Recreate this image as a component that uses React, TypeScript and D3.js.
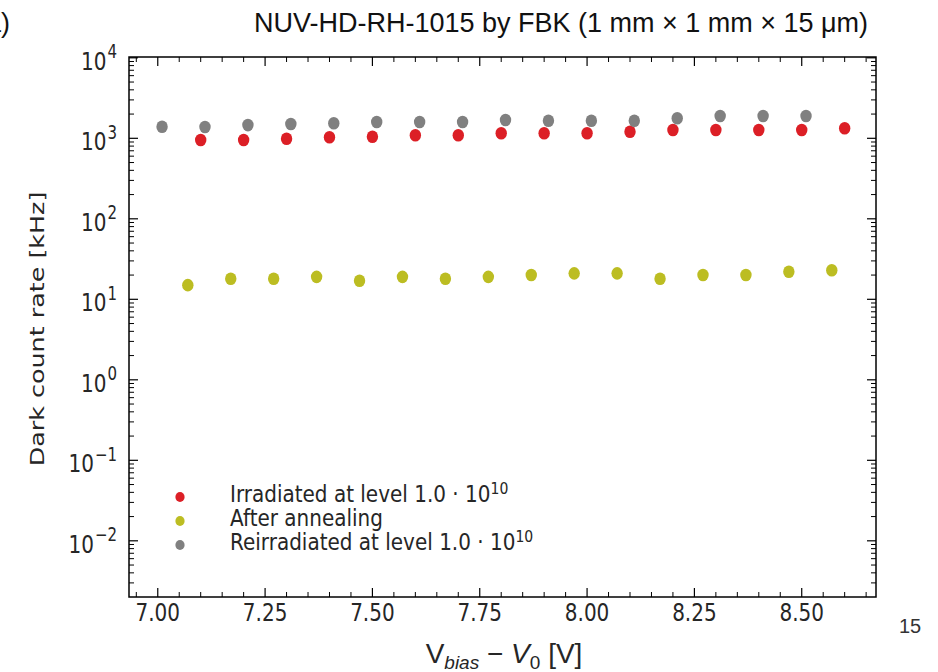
import React from "react";
import * as d3 from "d3";

const irrX = [7.10, 7.20, 7.30, 7.40, 7.50, 7.60, 7.70, 7.80, 7.90, 8.00, 8.10, 8.20, 8.30, 8.40, 8.50, 8.60];
const irrY = [953, 953, 989, 1029, 1047, 1090, 1090, 1154, 1154, 1154, 1208, 1268, 1268, 1268, 1268, 1331];
const annX = [7.07, 7.17, 7.27, 7.37, 7.47, 7.57, 7.67, 7.77, 7.87, 7.97, 8.07, 8.17, 8.27, 8.37, 8.47, 8.57];
const annY = [15, 18, 18, 19, 17, 19, 18, 19, 20, 21, 21, 18, 20, 20, 22, 23];
const reX = [7.01, 7.11, 7.21, 7.31, 7.41, 7.51, 7.61, 7.71, 7.81, 7.91, 8.01, 8.11, 8.21, 8.31, 8.41, 8.51];
const reY = [1390, 1380, 1460, 1505, 1535, 1595, 1595, 1595, 1690, 1655, 1655, 1655, 1771, 1892, 1892, 1892];

const xTicks = [7.0, 7.25, 7.5, 7.75, 8.0, 8.25, 8.5];
const xTickLabels = ["7.00", "7.25", "7.50", "7.75", "8.00", "8.25", "8.50"];
const yExps = [4, 3, 2, 1, 0, -1, -2];

const series = [
  { name: "Irradiated at level ", math: true, color: "#dc1f26", xs: irrX, ys: irrY },
  { name: "After annealing", math: false, color: "#bcbd22", xs: annX, ys: annY },
  { name: "Reirradiated at level ", math: true, color: "#808080", xs: reX, ys: reY },
];

const L = 129, R = 876, T = 57, B = 597;
const FONT = "'DejaVu Sans', sans-serif";
const ARIAL = "'Liberation Sans', Arial, sans-serif";
const TXT = "#262626";
const SY = 1.27;

export default function App() {
  const x = d3.scaleLinear().domain([6.933, 8.673]).range([L, R]);
  const y = d3.scaleLog().domain([Math.pow(10, -2.698), Math.pow(10, 4.01)]).range([B, T]);

  const minorX = d3.range(6.95, 8.68, 0.05).filter((v) => Math.abs(v / 0.25 - Math.round(v / 0.25)) > 1e-6);
  const minorY: number[] = [];
  for (let e = -3; e <= 4; e++) {
    for (let m = 2; m <= 9; m++) {
      const v = m * Math.pow(10, e);
      if (y(v) <= B && y(v) >= T) minorY.push(v);
    }
  }

  return (
    <svg width={938} height={672} style={{ position: "absolute", left: 0, top: 0, background: "#fff" }}>
      <rect x={0} y={0} width={938} height={672} fill="#fff" />
      <text x={10} y={32} fontFamily={ARIAL} fontSize={27} textAnchor="end" fill="#111">(a)</text>
      <text x={561} y={32} fontFamily={ARIAL} fontSize={27} textAnchor="middle" fill="#111">
        NUV-HD-RH-1015 by FBK (1 mm × 1 mm × 15 μm)
      </text>
      <text x={910} y={633} fontFamily={ARIAL} fontSize={20} textAnchor="middle" fill="#333">15</text>

      {/* data */}
      {series.map((s) =>
        s.xs.map((xv, i) => (
          <ellipse key={s.name + i} cx={x(xv)} cy={y(s.ys[i])} rx={5.7} ry={6.3} fill={s.color} />
        ))
      )}

      {/* frame */}
      <rect x={L} y={T} width={R - L} height={B - T} fill="none" stroke="#000" strokeWidth={1.5} />

      {/* x ticks */}
      {xTicks.map((v) => (
        <g key={"xt" + v}>
          <line x1={x(v)} x2={x(v)} y1={B} y2={B - 9} stroke="#000" strokeWidth={1.2} />
          <line x1={x(v)} x2={x(v)} y1={T} y2={T + 9} stroke="#000" strokeWidth={1.2} />
        </g>
      ))}
      {minorX.map((v) => (
        <g key={"xm" + v}>
          <line x1={x(v)} x2={x(v)} y1={B} y2={B - 5} stroke="#000" strokeWidth={1} />
          <line x1={x(v)} x2={x(v)} y1={T} y2={T + 5} stroke="#000" strokeWidth={1} />
        </g>
      ))}
      {xTicks.map((v, i) => (
        <text key={"xl" + v} transform={`translate(${x(v)}, ${B + 24}) scale(1, ${SY})`} textAnchor="middle" fontFamily={FONT} fontSize={20} fill={TXT}>
          {xTickLabels[i]}
        </text>
      ))}

      {/* y ticks */}
      {yExps.map((e) => {
        const v = Math.pow(10, e);
        return (
          <g key={"yt" + e}>
            <line x1={L} x2={L + 9} y1={y(v)} y2={y(v)} stroke="#000" strokeWidth={1.2} />
            <line x1={R} x2={R - 9} y1={y(v)} y2={y(v)} stroke="#000" strokeWidth={1.2} />
            <text transform={`translate(117, ${y(v) + 12}) scale(1, ${SY})`} textAnchor="end" fontFamily={FONT} fontSize={20} fill={TXT}>
              10<tspan dx={1} dy={-9} fontSize={15}>{e < 0 ? "\u2212" + Math.abs(e) : String(e)}</tspan>
            </text>
          </g>
        );
      })}
      {minorY.map((v, i) => (
        <g key={"ym" + i}>
          <line x1={L} x2={L + 5} y1={y(v)} y2={y(v)} stroke="#000" strokeWidth={1} />
          <line x1={R} x2={R - 5} y1={y(v)} y2={y(v)} stroke="#000" strokeWidth={1} />
        </g>
      ))}

      {/* axis labels */}
      <text transform={`translate(44, ${(T + B) / 2 + 2}) scale(1, ${SY}) rotate(-90)`} textAnchor="middle" fontFamily={FONT} fontSize={20} fill={TXT}>
        Dark count rate [kHz]
      </text>
      <text x={504} y={663} textAnchor="middle" fontFamily={ARIAL} fontSize={28} fill={TXT}>
        V<tspan dy={6} fontSize={19} fontStyle="italic">bias</tspan>
        <tspan dy={-6}> − </tspan>
        <tspan fontStyle="italic">V</tspan>
        <tspan dy={6} fontSize={19}>0</tspan>
        <tspan dy={-6}> [V]</tspan>
      </text>

      {/* legend */}
      {series.map((s, i) => (
        <g key={"lg" + i}>
          <ellipse cx={180} cy={497 + i * 24} rx={4.6} ry={5} fill={s.color} />
          <text transform={`translate(230, ${502 + i * 24}) scale(1, 1.12)`} fontFamily={FONT} fontSize={20} fill={TXT}>
            {s.name}
            {s.math ? (
              <>
                1.0 · 10<tspan dy={-7} fontSize={14}>10</tspan>
              </>
            ) : null}
          </text>
        </g>
      ))}
    </svg>
  );
}
